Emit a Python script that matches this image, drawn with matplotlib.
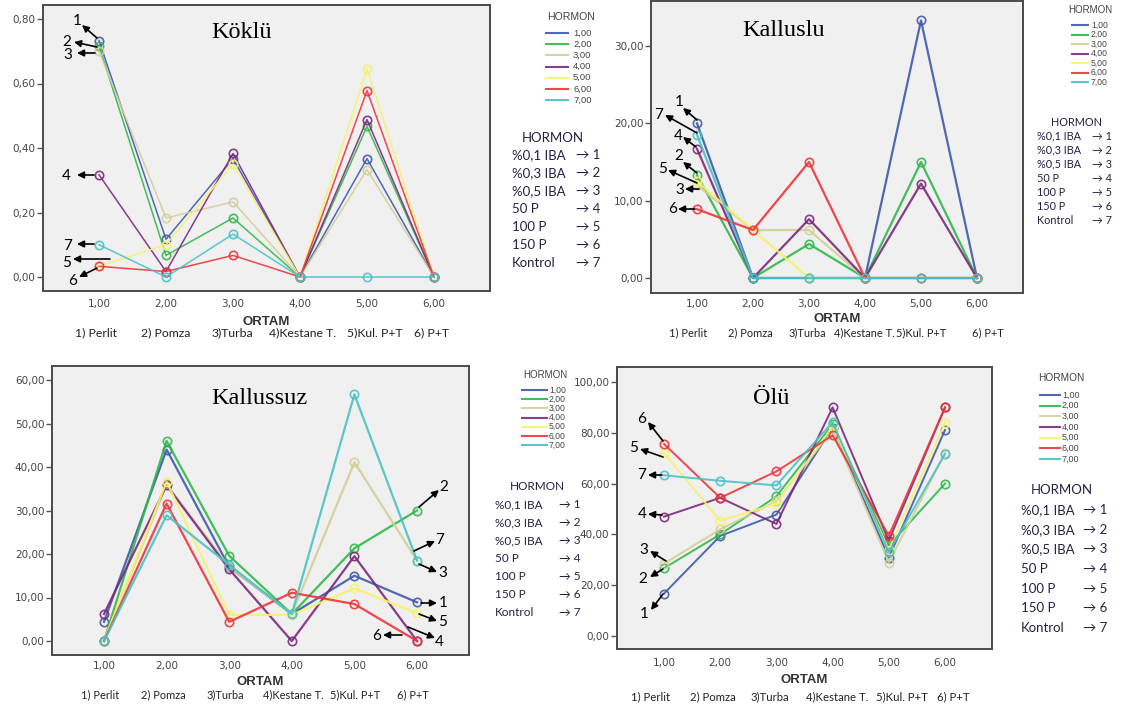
import matplotlib
matplotlib.use("Agg")
import matplotlib.pyplot as plt
from matplotlib.lines import Line2D

W, H = 1126, 708

# ---------------- data ----------------
ortam_x = [1, 2, 3, 4, 5, 6]
ortam_ticklabels = ["1,00", "2,00", "3,00", "4,00", "5,00", "6,00"]
ortam_names = ["1) Perlit", "2) Pomza", "3)Turba", "4)Kestane T.", "5)Kul. P+T", "6) P+T"]
hormon_codes = ["1,00", "2,00", "3,00", "4,00", "5,00", "6,00", "7,00"]
hormon_names = ["%0,1 IBA", "%0,3 IBA", "%0,5 IBA", "50 P", "100 P", "150 P", "Kontrol"]
hormon_nums = ["1", "2", "3", "4", "5", "6", "7"]
colors = ["#3E58AC", "#2EB848", "#D3CE97", "#7C287D", "#F6F36A", "#EF3338", "#48C2C5"]

koklu_1 = [0.733, 0.117, 0.367, 0.0, 0.367, 0.0]
koklu_2 = [0.717, 0.067, 0.183, 0.0, 0.467, 0.0]
koklu_3 = [0.700, 0.183, 0.233, 0.0, 0.333, 0.0]
koklu_4 = [0.317, 0.017, 0.383, 0.0, 0.488, 0.0]
koklu_5 = [0.033, 0.100, 0.350, 0.0, 0.645, 0.0]
koklu_6 = [0.033, 0.017, 0.067, 0.0, 0.578, 0.0]
koklu_7 = [0.100, 0.000, 0.133, 0.0, 0.000, 0.0]

kalluslu_1 = [20.0, 0.0, 0.0, 0.0, 33.3, 0.0]
kalluslu_2 = [13.3, 0.0, 4.4, 0.0, 15.0, 0.0]
kalluslu_3 = [12.0, 6.2, 6.2, 0.0, 0.0, 0.0]
kalluslu_4 = [16.7, 0.0, 7.6, 0.0, 12.2, 0.0]
kalluslu_5 = [12.5, 6.2, 0.0, 0.0, 0.0, 0.0]
kalluslu_6 = [8.9, 6.2, 15.0, 0.0, 0.0, 0.0]
kalluslu_7 = [18.5, 0.0, 0.0, 0.0, 0.0, 0.0]

kallussuz_1 = [4.4, 44.0, 17.0, 6.2, 15.0, 8.9]
kallussuz_2 = [0.0, 46.0, 19.6, 6.2, 21.3, 30.0]
kallussuz_3 = [0.0, 36.0, 17.0, 6.2, 41.1, 18.5]
kallussuz_4 = [6.2, 35.8, 16.5, 0.0, 19.5, 0.0]
kallussuz_5 = [0.0, 36.6, 6.0, 6.0, 12.1, 6.4]
kallussuz_6 = [0.0, 31.6, 4.4, 11.1, 8.5, 0.0]
kallussuz_7 = [0.0, 28.9, 17.5, 6.2, 56.7, 18.5]

olu_1 = [16.7, 39.4, 47.8, 82.0, 30.8, 81.1]
olu_2 = [26.7, 40.0, 55.0, 83.3, 35.6, 60.0]
olu_3 = [28.5, 42.0, 53.0, 81.0, 28.9, 72.0]
olu_4 = [47.0, 54.4, 44.1, 90.0, 37.5, 90.0]
olu_5 = [72.0, 45.4, 52.1, 82.5, 34.0, 84.0]
olu_6 = [75.6, 54.4, 64.8, 79.0, 39.5, 90.0]
olu_7 = [63.3, 61.1, 59.3, 84.2, 33.0, 71.7]

koklu_ticks = [0.0, 0.2, 0.4, 0.6, 0.8]
kalluslu_ticks = [0, 10, 20, 30]
kallussuz_ticks = [0, 10, 20, 30, 40, 50, 60]
olu_ticks = [0, 20, 40, 60, 80, 100]

# ---------------- layout helpers ----------------
fig = plt.figure(figsize=(W / 100, H / 100), dpi=100)
fig.patch.set_facecolor("white")

NUMFONT = ["Lato", "DejaVu Sans"]


def fx(px):
    return px / W


def fy(py):
    return 1 - py / H


def calib(p0, v0, p1, v1, pa, pb):
    k = (v1 - v0) / (p1 - p0)
    return v0 + (pa - p0) * k, v0 + (pb - p0) * k


def make_panel(frame, xcal, ycal, series, ticks, title, title_pos, lw,
               lab_y, ortam_y, cat_y, cat_px, cat_fs):
    l, t, r, b = frame
    ax = fig.add_axes([fx(l), fy(b), fx(r - l), (b - t) / H])
    ax.set_facecolor("#F0F0F0")
    for s in ax.spines.values():
        s.set_color("#4a4a4a")
        s.set_linewidth(1.4)
    for i, vals in enumerate(series):
        ax.plot(ortam_x, vals, color=colors[i], lw=lw, marker="o", ms=6,
                mfc="none", mec=colors[i], mew=1.2, alpha=0.9, zorder=2 + i)
    ax.set_xlim(*calib(xcal[0], 1, xcal[1], 6, l, r))
    ax.set_ylim(*calib(ycal[0], ticks[0], ycal[1], ticks[-1], b, t))
    ax.set_xticks(ortam_x)
    ax.set_xticklabels(ortam_ticklabels)
    ax.set_yticks(ticks)
    ax.set_yticklabels([("%.2f" % v).replace(".", ",") for v in ticks])
    ax.tick_params(axis="y", length=4, width=1, color="#555555", labelsize=7.5,
                   labelcolor="#444444", pad=1.5)
    ax.tick_params(axis="x", length=0, labelsize=7.5, labelcolor="#444444",
                   pad=(lab_y - b - 4) * 0.72)
    fig.text(fx(title_pos[0]), fy(title_pos[1]), title, family="Liberation Serif",
             fontsize=17.5, ha="center", va="center")
    cx = (l + r) / 2
    fig.text(fx(cx), fy(ortam_y), "ORTAM", family="Liberation Sans", weight="bold",
             fontsize=9.5, color="#333333", ha="center", va="center")
    for px, name in zip(cat_px, ortam_names):
        fig.text(fx(px), fy(cat_y), name, family=NUMFONT, fontsize=cat_fs,
                 color="#222222", ha="center", va="center")
    return ax


def spss_legend(title_xy, x0, x1, xlab, y0, y1, fs):
    fig.text(fx(title_xy[0]), fy(title_xy[1]), "HORMON", family="Liberation Sans",
             fontsize=fs + 0.8, color="#444444", ha="center", va="center")
    n = len(hormon_codes)
    for i in range(n):
        yy = y0 + (y1 - y0) * i / (n - 1)
        fig.add_artist(Line2D([fx(x0), fx(x1)], [fy(yy), fy(yy)], color=colors[i],
                              lw=1.5, alpha=0.9))
        fig.text(fx(xlab), fy(yy), hormon_codes[i], family="Liberation Sans",
                 fontsize=fs, color="#444444", ha="left", va="center")


def mapping_box(title_xy, xl, xarrow, y0, y1, fs, color="#222244"):
    fig.text(fx(title_xy[0]), fy(title_xy[1]), "HORMON", family=NUMFONT,
             fontsize=fs, color=color, ha="center", va="center")
    n = len(hormon_names)
    for i in range(n):
        yy = y0 + (y1 - y0) * i / (n - 1)
        fig.text(fx(xl), fy(yy), hormon_names[i], family=NUMFONT, fontsize=fs,
                 color=color, ha="left", va="center")
        fig.text(fx(xarrow), fy(yy), "\u2192 " + hormon_nums[i], family=NUMFONT,
                 fontsize=fs, color=color, ha="left", va="center")


def annotate_all(items):
    for lab, tpos, tail, head in items:
        fig.text(fx(tpos[0]), fy(tpos[1]), lab, family=NUMFONT, fontsize=11,
                 ha="center", va="center", color="black")
        fig.add_artist(matplotlib.patches.FancyArrowPatch(
            (fx(tail[0]), fy(tail[1])), (fx(head[0]), fy(head[1])),
            transform=fig.transFigure, arrowstyle="-|>", mutation_scale=10,
            color="black", lw=1.2, shrinkA=0, shrinkB=0))


# ---------------- panels ----------------
make_panel((43, 5, 490, 291), (99, 434), (277, 19),
           [koklu_1, koklu_2, koklu_3, koklu_4, koklu_5, koklu_6, koklu_7],
           koklu_ticks, "Köklü", (242, 33), 1.1, 303, 322, 333,
           [96, 166, 232, 303, 375, 432], 8.8)
make_panel((651, 1, 1023, 293), (697, 977), (278, 46),
           [kalluslu_1, kalluslu_2, kalluslu_3, kalluslu_4, kalluslu_5, kalluslu_6, kalluslu_7],
           kalluslu_ticks, "Kalluslu", (784, 31), 1.6, 303, 319, 333,
           [688, 750, 807, 864, 921, 988], 7.9)
make_panel((52, 366, 469, 655), (104, 417), (641, 380),
           [kallussuz_1, kallussuz_2, kallussuz_3, kallussuz_4, kallussuz_5, kallussuz_6, kallussuz_7],
           kallussuz_ticks, "Kallussuz", (259, 398), 1.6, 665, 682, 695,
           [100, 163, 225, 293, 355, 413], 7.9)
make_panel((617, 367, 992, 649), (664, 945), (636, 382),
           [olu_1, olu_2, olu_3, olu_4, olu_5, olu_6, olu_7],
           olu_ticks, "Ölü", (771, 398), 1.4, 662, 680, 697,
           [651, 713, 770, 837, 902, 953], 8.2)

# ---------------- legends ----------------
spss_legend((571, 17), 546, 568, 573, 33, 100, 6.8)
spss_legend((1090, 10), 1072, 1088, 1091, 25, 82, 6.2)
spss_legend((545, 375), 522, 547, 549, 390, 445, 6.2)
spss_legend((1061, 378), 1040, 1060, 1062, 395, 459, 6.5)

mapping_box((553, 138), 512, 576, 155, 263, 9.5)
mapping_box((1076, 122), 1037, 1092, 136, 220, 7.8)
mapping_box((537, 487), 495, 559, 505, 613, 8.5)
mapping_box((1062, 490), 1021, 1083, 510, 628, 9.5)

# ---------------- number annotations ----------------
annotate_all([
    ("1", (77, 21), (97, 38), (82, 25)),
    ("2", (67, 42), (97, 47), (74, 42)),
    ("3", (68, 55), (95, 53), (77, 53)),
    ("4", (66, 176), (94, 175), (77, 175)),
    ("7", (68, 246), (94, 244), (77, 244)),
    ("5", (67, 263), (110, 259), (73, 259)),
    ("6", (73, 281), (97, 268), (79, 277)),
])
annotate_all([
    ("1", (679, 102), (697, 120), (683, 108)),
    ("7", (659, 115), (697, 133), (665, 115)),
    ("4", (678, 136), (696, 147), (683, 137)),
    ("2", (679, 156), (697, 173), (683, 162)),
    ("5", (663, 169), (697, 183), (668, 170)),
    ("3", (680, 190), (699, 189), (685, 189)),
    ("6", (673, 209), (695, 209), (678, 209)),
])
annotate_all([
    ("2", (444, 487), (419, 507), (439, 490)),
    ("7", (440, 540), (414, 551), (435, 541)),
    ("3", (443, 573), (419, 564), (437, 572)),
    ("1", (443, 603), (421, 603), (437, 603)),
    ("5", (443, 622), (419, 614), (437, 621)),
    ("4", (439, 642), (408, 627), (435, 638)),
    ("6", (377, 636), (402, 635), (383, 635)),
])
annotate_all([
    ("6", (642, 419), (663, 441), (648, 422)),
    ("5", (634, 448), (663, 457), (640, 449)),
    ("7", (642, 475), (662, 475), (648, 475)),
    ("4", (642, 514), (662, 515), (648, 514)),
    ("3", (644, 550), (666, 561), (650, 551)),
    ("2", (643, 579), (663, 569), (650, 577)),
    ("1", (644, 614), (663, 594), (651, 610)),
])

fig.savefig("out.png", dpi=100, facecolor="white")
